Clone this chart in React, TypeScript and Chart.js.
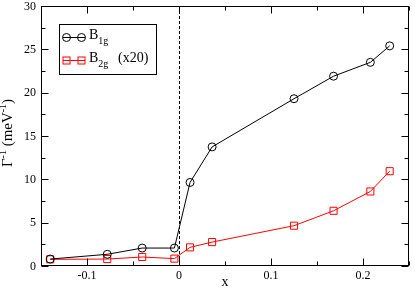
import React, { useEffect, useRef } from "react";
import { Chart, registerables } from "chart.js";

Chart.register(...registerables);

const xValues = [-0.14, -0.078, -0.04, -0.005, 0.012, 0.036, 0.125, 0.168, 0.208, 0.229];
const b1gValues = [0.8, 1.35, 2.07, 2.07, 9.64, 13.74, 19.3, 21.9, 23.5, 25.4];
const b2gValues = [0.77, 0.8, 1.04, 0.85, 2.15, 2.76, 4.65, 6.37, 8.6, 10.94];
const xTickValues = [-0.1, 0, 0.1, 0.2];
const xTickLabels = ["-0.1", "0", "0.1", "0.2"];
const yTickValues = [0, 5, 10, 15, 20, 25, 30];
const yTickLabels = ["0", "5", "10", "15", "20", "25", "30"];

const FONT = '"Liberation Serif", "Times New Roman", serif';

const isMultiple = (v: number, step: number) => Math.abs(v / step - Math.round(v / step)) < 1e-6;

const framePlugin = {
  id: "frameAndDecor",
  beforeDatasetsDraw(chart: any) {
    const { ctx, chartArea: a, scales } = chart;
    const x0 = Math.round(scales.x.getPixelForValue(0)) + 0.5;
    ctx.save();
    ctx.strokeStyle = "#000";
    ctx.lineWidth = 1;
    ctx.setLineDash([3, 2]);
    ctx.beginPath();
    ctx.moveTo(x0, a.top);
    ctx.lineTo(x0, a.bottom);
    ctx.stroke();
    ctx.restore();
  },
  afterDatasetsDraw(chart: any) {
    const { ctx, chartArea: a, scales } = chart;
    const L = Math.round(a.left) + 0.5;
    const R = Math.round(a.right) - 0.5;
    const T = Math.round(a.top) + 0.5;
    const B = Math.round(a.bottom) - 0.5;
    ctx.save();
    ctx.strokeStyle = "#000";
    ctx.lineWidth = 1;
    ctx.setLineDash([]);
    ctx.strokeRect(L, T, R - L, B - T);
    // inward ticks
    ctx.beginPath();
    for (const t of scales.x.ticks) {
      const px = Math.round(scales.x.getPixelForValue(t.value)) + 0.5;
      const len = isMultiple(t.value, 0.1) ? 7 : 4;
      ctx.moveTo(px, B);
      ctx.lineTo(px, B - len);
      ctx.moveTo(px, T);
      ctx.lineTo(px, T + len);
    }
    for (const t of scales.y.ticks) {
      const py = Math.round(scales.y.getPixelForValue(t.value)) + 0.5;
      const len = isMultiple(t.value, 5) ? 7 : 4;
      ctx.moveTo(L, py);
      ctx.lineTo(L + len, py);
      ctx.moveTo(R, py);
      ctx.lineTo(R - len, py);
    }
    ctx.stroke();

    // tick labels
    ctx.fillStyle = "#000";
    ctx.font = `12px ${FONT}`;
    ctx.textAlign = "center";
    ctx.textBaseline = "alphabetic";
    xTickValues.forEach((v, i) => {
      ctx.fillText(xTickLabels[i], scales.x.getPixelForValue(v), a.bottom + 13);
    });
    ctx.textAlign = "right";
    ctx.textBaseline = "middle";
    yTickValues.forEach((v, i) => {
      ctx.fillText(yTickLabels[i], a.left - 5, scales.y.getPixelForValue(v) + 0.5);
    });

    // legend
    ctx.textBaseline = "alphabetic";
    ctx.strokeRect(59.5, 24.5, 97, 50);
    const r1 = 37.5;
    ctx.beginPath();
    ctx.moveTo(63, r1);
    ctx.lineTo(85, r1);
    ctx.stroke();
    for (const cx of [66.5, 81.5]) {
      ctx.beginPath();
      ctx.arc(cx, r1, 4, 0, Math.PI * 2);
      ctx.stroke();
    }
    ctx.textAlign = "left";
    ctx.font = `14px ${FONT}`;
    ctx.fillText("B", 89, 38.5);
    let w = ctx.measureText("B").width;
    ctx.font = `10px ${FONT}`;
    ctx.fillText("1g", 89 + w, 44);
    const r2 = 60.5;
    ctx.strokeStyle = "#ff0000";
    ctx.beginPath();
    ctx.moveTo(63, r2);
    ctx.lineTo(85, r2);
    ctx.stroke();
    for (const cx of [66.5, 81.5]) {
      ctx.strokeRect(cx - 3.5, r2 - 3.5, 7, 7);
    }
    ctx.font = `14px ${FONT}`;
    ctx.fillText("B", 89, 61.5);
    w = ctx.measureText("B").width;
    ctx.font = `10px ${FONT}`;
    ctx.fillText("2g", 89 + w, 67);
    ctx.font = `14px ${FONT}`;
    ctx.fillText("(x20)", 118, 61.5);

    // x title
    ctx.textAlign = "center";
    ctx.fillText("x", (a.left + a.right) / 2, 286);

    // y title with superscripts
    const parts: [string, number, number][] = [
      ["Γ", 15, 0],
      ["-1", 10, -6],
      [" (meV", 15, 0],
      ["-1", 10, -6],
      [")", 15, 0],
    ];
    let total = 0;
    for (const [s, size] of parts) {
      ctx.font = `${size}px ${FONT}`;
      total += ctx.measureText(s).width;
    }
    ctx.translate(12, 133);
    ctx.rotate(-Math.PI / 2);
    ctx.textAlign = "left";
    let xx = -total / 2;
    for (const [s, size, dy] of parts) {
      ctx.font = `${size}px ${FONT}`;
      ctx.fillText(s, xx, dy);
      xx += ctx.measureText(s).width;
    }
    ctx.restore();
  },
};

export default function App() {
  const ref = useRef<HTMLCanvasElement | null>(null);
  useEffect(() => {
    document.body.style.margin = "0";
    const canvas = ref.current;
    if (!canvas) return;
    const chart = new Chart(canvas, {
      type: "scatter",
      data: {
        datasets: [
          {
            label: "B1g",
            data: xValues.map((x, i) => ({ x, y: b1gValues[i] })),
            showLine: true,
            borderColor: "#000",
            borderWidth: 1,
            pointStyle: "circle",
            pointRadius: 4,
            pointBorderWidth: 1,
            pointBackgroundColor: "rgba(0,0,0,0)",
            pointBorderColor: "#000",
          },
          {
            label: "B2g (x20)",
            data: xValues.map((x, i) => ({ x, y: b2gValues[i] })),
            showLine: true,
            borderColor: "#ff0000",
            borderWidth: 1,
            pointStyle: "rect",
            pointRadius: 5,
            pointBorderWidth: 1,
            pointBackgroundColor: "rgba(0,0,0,0)",
            pointBorderColor: "#ff0000",
          },
        ],
      },
      options: {
        responsive: false,
        animation: false,
        events: [],
        layout: { padding: { top: 6, right: 1, left: 41, bottom: 25 } },
        plugins: { legend: { display: false }, tooltip: { enabled: false } },
        scales: {
          x: {
            type: "linear",
            display: false,
            min: -0.15,
            max: 0.25,
            ticks: { stepSize: 0.05 },
          },
          y: {
            type: "linear",
            display: false,
            min: 0,
            max: 30,
            ticks: { stepSize: 2.5 },
          },
        },
      },
      plugins: [framePlugin],
    } as any);
    return () => chart.destroy();
  }, []);
  return <canvas ref={ref} width={415} height={291} style={{ display: "block" }} />;
}
